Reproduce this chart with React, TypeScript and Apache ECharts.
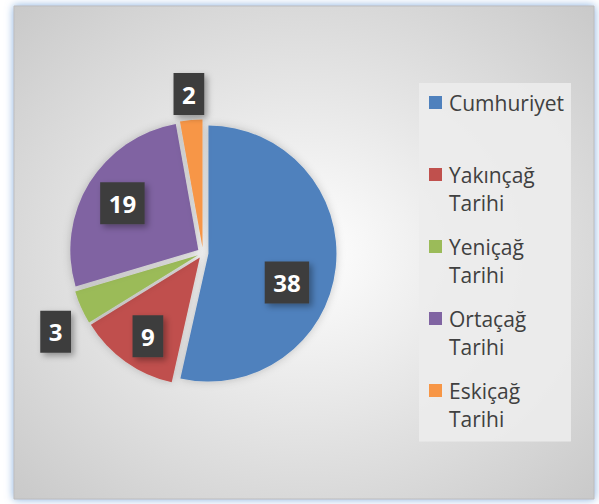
import React, { useEffect, useRef } from "react";
import * as echarts from "echarts";

const categories = ["Cumhuriyet", "Yakınçağ Tarihi", "Yeniçağ Tarihi", "Ortaçağ Tarihi", "Eskiçağ Tarihi"];
const legendLines = [
  ["Cumhuriyet", " "],
  ["Yakınçağ", "Tarihi"],
  ["Yeniçağ", "Tarihi"],
  ["Ortaçağ", "Tarihi"],
  ["Eskiçağ", "Tarihi"],
];
const values = [38, 9, 3, 19, 2];
const colors = ["#4F81BD", "#C0504D", "#9BBB59", "#8064A2", "#F79646"];

// label placement (fraction of radius, angular shift in degrees)
const labelRadius = [0.695, 0.78, 1.305, 0.74, 1.247];
const labelAngleShift = [13, -2, -4, 0, 0];

const CX = 203;
const CY = 253;
const R = 128;
const FONT = "'Open Sans', 'Noto Sans', sans-serif";

export default function App() {
  const ref = useRef<HTMLDivElement>(null);

  useEffect(() => {
    if (!ref.current) return;
    const chart = echarts.init(ref.current, undefined, { renderer: "svg" });
    const total = values.reduce((a, b) => a + b, 0);
    const mids: number[] = [];
    let acc = 0;
    values.forEach((v) => {
      mids.push(((acc + v / 2) / total) * 360);
      acc += v;
    });

    const rich: Record<string, any> = {
      g: { width: 7 },
      i: { width: 20 },
      t: { fontSize: 21, lineHeight: 28.5, color: "#404040", fontFamily: FONT },
    };
    colors.forEach((c, i) => {
      rich["s" + i] = { width: 13, height: 13, backgroundColor: c };
    });

    const pieData = categories.map((name, i) => ({
      name,
      value: values[i],
      itemStyle: { color: colors[i] },
    }));

    chart.setOption({
      animation: false,
      graphic: [
        {
          type: "rect",
          z: -10,
          shape: { x: 14, y: 6, width: 580, height: 493 },
          style: {
            fill: new echarts.graphic.RadialGradient(0.5, 0.5, 0.8, [
              { offset: 0, color: "#ffffff" },
              { offset: 1, color: "#c2c2c2" },
            ]),
            stroke: "#bdbdbd",
            lineWidth: 1,
            shadowBlur: 8,
            shadowColor: "rgba(120,165,220,0.9)",
          },
        },
      ],
      legend: {
        orient: "vertical",
        left: 419,
        top: 83,
        icon: "none",
        itemWidth: 0,
        itemHeight: 14,
        itemGap: 22.5,
        padding: [9, 7, 12, 5],
        backgroundColor: "rgba(236,236,236,0.9)",
        selectedMode: false,
        data: categories,
        formatter: (name: string) => {
          const i = categories.indexOf(name);
          const l = legendLines[i];
          return `{s${i}|}{g|}{t|${l[0]}}\n{i|}{t|${l[1]}}`;
        },
        textStyle: { rich, color: "#404040", fontFamily: FONT, fontSize: 21 },
      },
      series: [
        {
          type: "pie",
          center: [CX, CY],
          radius: [0, R],
          startAngle: 90,
          clockwise: true,
          selectedMode: "multiple",
          selectedOffset: 5.5,
          emphasis: { disabled: true },
          itemStyle: {
            shadowBlur: 8,
            shadowColor: "rgba(0,0,0,0.2)",
          },
          label: { show: false },
          labelLine: { show: false },
          data: pieData.map((d) => ({ ...d, selected: true })),
        },
        {
          type: "pie",
          center: [CX, CY],
          radius: [0, R],
          startAngle: 90,
          clockwise: true,
          silent: true,
          selectedMode: false,
          avoidLabelOverlap: false,
          emphasis: { disabled: true },
          itemStyle: { color: "rgba(0,0,0,0)", borderWidth: 0 },
          label: {
            show: true,
            position: "inside",
            formatter: "{c}",
            color: "#ffffff",
            fontFamily: FONT,
            fontWeight: "bold",
            fontSize: 24,
            lineHeight: 30,
            backgroundColor: "#3c3c3c",
            padding: [6, 8.5],
            textBorderWidth: 0,
            shadowBlur: 6,
            shadowOffsetX: 3,
            shadowOffsetY: 3,
            shadowColor: "rgba(0,0,0,0.35)",
          },
          labelLine: { show: false },
          labelLayout: (params: any) => {
            const i = params.dataIndex;
            const a = ((mids[i] + labelAngleShift[i]) * Math.PI) / 180;
            const r = labelRadius[i] * R;
            return {
              x: CX + r * Math.sin(a),
              y: CY - r * Math.cos(a),
              align: "center",
              verticalAlign: "middle",
            };
          },
          data: categories.map((name, i) => ({ name, value: values[i] })),
        },
      ],
    });
    return () => chart.dispose();
  }, []);

  return (
    <div
      ref={ref}
      style={{ position: "absolute", left: 0, top: 0, width: 599, height: 504, background: "#ffffff" }}
    />
  );
}
